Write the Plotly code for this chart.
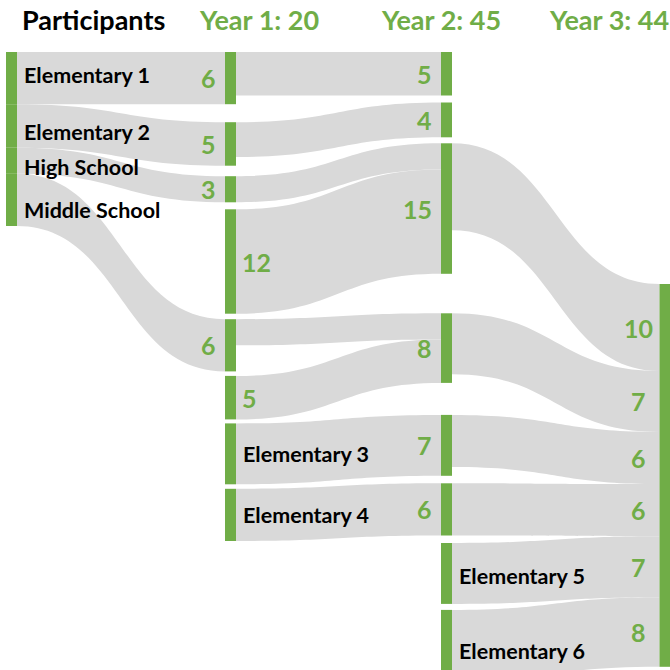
import plotly.graph_objects as go

# ---- data -------------------------------------------------------------
headers = ["Participants", "Year 1: 20", "Year 2: 45", "Year 3: 44"]

# node names per column ("" = unnamed node)
participant_names = ["Elementary 1", "Elementary 2", "High School", "Middle School"]
year1_names = ["", "", "", "", "", "", "Elementary 3", "Elementary 4"]
year2_names = ["", "", "", "", "", "", "Elementary 5", "Elementary 6"]
year3_names = [""]

# flows: (column, index) -> (column, index)
flow_source = [(0, 0), (0, 1), (0, 2), (0, 3),
               (1, 0), (1, 1), (1, 2), (1, 3), (1, 4), (1, 5), (1, 6), (1, 7),
               (2, 2), (2, 3), (2, 4), (2, 5), (2, 6), (2, 7)]
flow_target = [(1, 0), (1, 1), (1, 2), (1, 4),
               (2, 0), (2, 1), (2, 2), (2, 2), (2, 3), (2, 3), (2, 4), (2, 5),
               (3, 0), (3, 0), (3, 0), (3, 0), (3, 0), (3, 0)]
flow_value = [6, 5, 3, 6,
              5, 4, 3, 12, 3, 5, 7, 6,
              10, 7, 6, 6, 7, 8]

# ---- layout / style ---------------------------------------------------
W = H = 670
KY = 8.7                      # px per participant
THICK = 11
GREEN = "#70ad47"
GREY = "rgba(217,217,217,1)"
FONT = "Lato, 'Open Sans', sans-serif"

col_x = [11.5, 230.5, 446.5, 665]            # node centres (px)
col_top = [52, 52, 52, 284]                  # first node top (px)
col_gaps = [[0, 0, 0],
            [18, 10.5, 7, 5.5, 4.5, 4, 4.5],
            [7, 6, 39.5, 32, 7.5, 7.5, 6],
            []]
# where the node's number goes: "l", "r" or None
num_side = [[None] * 4,
            ["l", "l", "l", "r", "l", "r", None, None],
            ["l", "l", "l", "l", "l", "l", None, None],
            [None]]
name_nudge = [[-3, 6, 6, 10], [0] * 8, [0, 0, 0, 0, 0, 0, 3, 6], [0]]
header_x = [93, 259, 441, 609]

columns = [participant_names, year1_names, year2_names, year3_names]

# ---- build node indices and totals -----------------------------------
node_id = {}
for c, names in enumerate(columns):
    for i in range(len(names)):
        node_id[(c, i)] = len(node_id)

inflow = {k: 0 for k in node_id}
outflow = {k: 0 for k in node_id}
for s, t, v in zip(flow_source, flow_target, flow_value):
    outflow[s] += v
    inflow[t] += v
total = {k: max(inflow[k], outflow[k]) for k in node_id}

# node geometry (px)
node_top = {}
for c, names in enumerate(columns):
    y = col_top[c]
    for i in range(len(names)):
        node_top[(c, i)] = y
        y += total[(c, i)] * KY
        if i < len(col_gaps[c]):
            y += col_gaps[c][i]

keys = list(node_id)
node_x = [col_x[c] / W for c, i in keys]
node_y = [(node_top[k] + total[k] * KY / 2) / H for k in keys]

# d3-sankey scale is set by the first layer (all source nodes)
sources = [k for k in keys if inflow[k] == 0]
pad = (H - KY * sum(total[k] for k in sources)) / (len(sources) - 1)

fig = go.Figure(go.Sankey(
    arrangement="fixed",
    domain=dict(x=[0, 1], y=[0, 1]),
    node=dict(
        label=[""] * len(keys),
        x=node_x,
        y=node_y,
        pad=pad,
        thickness=THICK,
        color=GREEN,
        line=dict(width=0),
        hoverinfo="none",
    ),
    link=dict(
        source=[node_id[s] for s in flow_source],
        target=[node_id[t] for t in flow_target],
        value=flow_value,
        color=GREY,
        line=dict(width=0),
        hoverinfo="none",
    ),
))

ann = []


def add_text(text, px, py, size, color, anchor):
    ann.append(dict(text=text, x=px / W, y=1 - py / H, xref="paper", yref="paper",
                    xanchor=anchor, yanchor="middle", showarrow=False,
                    font=dict(family=FONT, size=size, color=color, weight="bold")))


# headers
for i, h in enumerate(headers):
    add_text(h, header_x[i], 20, 27, "black" if i == 0 else GREEN, "center")

# names and node numbers
for c, names in enumerate(columns):
    for i, name in enumerate(names):
        k = (c, i)
        cy = node_top[k] + total[k] * KY / 2
        if name:
            add_text(name, col_x[c] + THICK / 2 + 5, cy + name_nudge[c][i], 21.5, "black", "left")
        side = num_side[c][i]
        if side == "l":
            add_text(str(total[k]), col_x[c] - THICK / 2 - 7, cy, 25, GREEN, "right")
        elif side == "r":
            add_text(str(total[k]), col_x[c] + THICK / 2 + 4, cy, 25, GREEN, "left")

# numbers of flows entering the last column
last = (3, 0)
y = node_top[last]
for s, t, v in zip(flow_source, flow_target, flow_value):
    if t == last:
        add_text(str(v), col_x[3] - THICK / 2 - 21, y + v * KY / 2, 25, GREEN, "center")
        y += v * KY

fig.update_layout(
    width=W, height=H,
    margin=dict(l=0, r=0, t=0, b=0),
    paper_bgcolor="white",
    plot_bgcolor="white",
    annotations=ann,
)

# drop the page's default body margin so the figure sits at the window corner
fig.write_html("out.html", config={"displayModeBar": False},
               post_script="document.body.style.margin = '0';")
